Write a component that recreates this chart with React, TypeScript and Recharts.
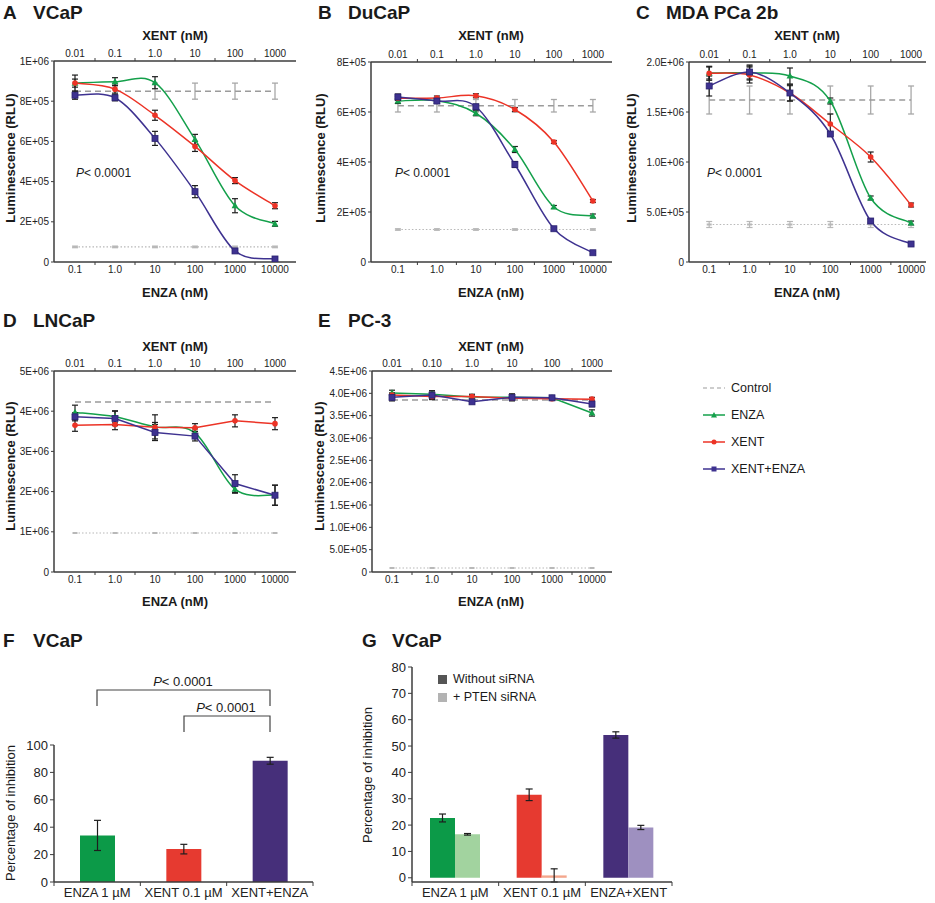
import React from "react";
import { LineChart, Line, XAxis, YAxis, ErrorBar, BarChart, Bar, Cell } from "recharts";

const FONT = '"Liberation Sans", Arial, Helvetica, sans-serif';
const AXIS = "#3c3c3c";
const TICK = "#222222";
const GREEN = "#14a04b";
const RED = "#ec3326";
const BLUE = "#3e3290";
const CTRL = "#9b9b9b";
const BASE = "#b8b8b8";

// shared dose axes (log10 of ENZA dose is used as x position)
const logDose = [-1, 0, 1, 2, 3, 4];
const enzaTicks = ["0.1", "1.0", "10", "100", "1000", "10000"];
const xentTicks = ["0.01", "0.1", "1.0", "10", "100", "1000"];
const xentTicksE = ["0.01", "0.10", "1.0", "10", "100", "1000"];

// A - VCaP
const vcapEnza = [8.9e5, 8.97e5, 8.92e5, 6.1e5, 2.8e5, 1.9e5];
const vcapEnzaErr = [4e4, 2e4, 3e4, 2.5e4, 3.5e4, 1.2e4];
const vcapXent = [8.9e5, 8.6e5, 7.3e5, 5.75e5, 4.05e5, 2.8e5];
const vcapXentErr = [2e4, 2e4, 2.5e4, 2.5e4, 1.5e4, 1.5e4];
const vcapCombo = [8.3e5, 8.17e5, 6.15e5, 3.5e5, 5.5e4, 1.5e4];
const vcapComboErr = [2e4, 1.5e4, 3.5e4, 3e4, 5e3, 5e3];
const vcapCtrl = [8.5e5, 8.5e5, 8.5e5, 8.5e5, 8.5e5, 8.5e5];
const vcapCtrlErr = [4e4, 4e4, 4e4, 4e4, 4e4, 4e4];
const vcapBase = [7.5e4, 7.5e4, 7.5e4, 7.5e4, 7.5e4, 7.5e4];
const vcapBaseErr = [4e3, 4e3, 4e3, 4e3, 4e3, 4e3];
const vcapYTicks = [0, 2e5, 4e5, 6e5, 8e5, 1e6];
const vcapYLabels = ["0", "2E+05", "4E+05", "6E+05", "8E+05", "1E+06"];

// B - DuCaP
const ducapEnza = [6.44e5, 6.45e5, 5.95e5, 4.5e5, 2.2e5, 1.84e5];
const ducapEnzaErr = [1e4, 1e4, 1e4, 1.2e4, 6e3, 8e3];
const ducapXent = [6.55e5, 6.56e5, 6.65e5, 6.1e5, 4.8e5, 2.44e5];
const ducapXentErr = [8e3, 8e3, 8e3, 8e3, 6e3, 6e3];
const ducapCombo = [6.6e5, 6.44e5, 6.21e5, 3.9e5, 1.33e5, 3.7e4];
const ducapComboErr = [1.2e4, 1e4, 1e4, 1.2e4, 5e3, 5e3];
const ducapCtrl = [6.25e5, 6.25e5, 6.25e5, 6.25e5, 6.25e5, 6.25e5];
const ducapCtrlErr = [2.5e4, 2.5e4, 2.5e4, 2.5e4, 2.5e4, 2.5e4];
const ducapBase = [1.3e5, 1.3e5, 1.3e5, 1.3e5, 1.3e5, 1.3e5];
const ducapBaseErr = [3e3, 3e3, 3e3, 3e3, 3e3, 3e3];
const ducapYTicks = [0, 2e5, 4e5, 6e5, 8e5];
const ducapYLabels = ["0", "2E+05", "4E+05", "6E+05", "8E+05"];

// C - MDA PCa 2b
const mdaEnza = [1.89e6, 1.89e6, 1.86e6, 1.61e6, 6.4e5, 3.9e5];
const mdaEnzaErr = [6e4, 7e4, 8e4, 3e4, 2e4, 2e4];
const mdaXent = [1.887e6, 1.87e6, 1.69e6, 1.38e6, 1.05e6, 5.7e5];
const mdaXentErr = [7e4, 8e4, 8e4, 1e5, 5e4, 2e4];
const mdaCombo = [1.76e6, 1.9e6, 1.69e6, 1.28e6, 4.1e5, 1.8e5];
const mdaComboErr = [1e5, 7e4, 8e4, 2e4, 2e4, 1e4];
const mdaCtrl = [1.62e6, 1.62e6, 1.62e6, 1.62e6, 1.62e6, 1.62e6];
const mdaCtrlErr = [1.4e5, 1.4e5, 1.4e5, 1.4e5, 1.4e5, 1.4e5];
const mdaBase = [3.75e5, 3.75e5, 3.75e5, 3.75e5, 3.75e5, 3.75e5];
const mdaBaseErr = [3e4, 3e4, 3e4, 3e4, 3e4, 3e4];
const mdaYTicks = [0, 5e5, 1e6, 1.5e6, 2e6];
const mdaYLabels = ["0", "5.0E+05", "1.0E+06", "1.5E+06", "2.0E+06"];

// D - LNCaP
const lncapEnza = [3.97e6, 3.86e6, 3.61e6, 3.46e6, 2.06e6, 1.91e6];
const lncapEnzaErr = [1.8e5, 1.5e5, 3e5, 1e5, 1e5, 2.5e5];
const lncapXent = [3.65e6, 3.67e6, 3.6e6, 3.59e6, 3.76e6, 3.69e6];
const lncapXentErr = [1.5e5, 1.3e5, 1.2e5, 1e5, 1.5e5, 1.5e5];
const lncapCombo = [3.86e6, 3.82e6, 3.47e6, 3.38e6, 2.2e6, 1.91e6];
const lncapComboErr = [1e5, 1.8e5, 2e5, 1.2e5, 2.2e5, 2.5e5];
const lncapCtrl = [4.23e6, 4.23e6, 4.23e6, 4.23e6, 4.23e6, 4.23e6];
const lncapCtrlErr = [0, 0, 0, 0, 0, 0];
const lncapBase = [9.7e5, 9.7e5, 9.7e5, 9.7e5, 9.7e5, 9.7e5];
const lncapBaseErr = [0, 0, 0, 0, 0, 0];
const lncapYTicks = [0, 1e6, 2e6, 3e6, 4e6, 5e6];
const lncapYLabels = ["0", "1E+06", "2E+06", "3E+06", "4E+06", "5E+06"];

// E - PC-3
const pc3Enza = [4.01e6, 3.98e6, 3.92e6, 3.91e6, 3.9e6, 3.56e6];
const pc3EnzaErr = [6e4, 5e4, 4e4, 4e4, 4e4, 7e4];
const pc3Xent = [3.96e6, 3.93e6, 3.93e6, 3.89e6, 3.88e6, 3.87e6];
const pc3XentErr = [5e4, 5e4, 5e4, 4e4, 4e4, 4e4];
const pc3Combo = [3.91e6, 3.96e6, 3.81e6, 3.91e6, 3.9e6, 3.76e6];
const pc3ComboErr = [8e4, 1e5, 4e4, 8e4, 5e4, 6e4];
const pc3Ctrl = [3.85e6, 3.85e6, 3.85e6, 3.85e6, 3.85e6, 3.85e6];
const pc3CtrlErr = [0, 0, 0, 0, 0, 0];
const pc3Base = [9e4, 9e4, 9e4, 9e4, 9e4, 9e4];
const pc3BaseErr = [0, 0, 0, 0, 0, 0];
const pc3YTicks = [0, 5e5, 1e6, 1.5e6, 2e6, 2.5e6, 3e6, 3.5e6, 4e6, 4.5e6];
const pc3YLabels = ["0", "5.0E+05", "1.0E+06", "1.5E+06", "2.0E+06", "2.5E+06", "3.0E+06", "3.5E+06", "4.0E+06", "4.5E+06"];

// F - VCaP bars
const fCats = ["ENZA 1 µM", "XENT 0.1 µM", "XENT+ENZA"];
const fValues = [34, 24, 88.5];
const fErrs = [11, 3.5, 2.5];
const fColors = ["#0c9a48", "#e63a30", "#462f7a"];

// G - VCaP bars, with / without PTEN siRNA
const gCats = ["ENZA 1 µM", "XENT 0.1 µM", "ENZA+XENT"];
const gWithout = [22.7, 31.5, 54.2];
const gWithoutErr = [1.5, 2.2, 1.2];
const gPten = [16.5, 0.9, 19.1];
const gPtenErr = [0.3, 2.5, 0.8];
const gDark = ["#0c9a48", "#e63a30", "#462f7a"];
const gLight = ["#a2d39f", "#f4a68c", "#9e90c0"];

// Excel-like smoothed line (Catmull-Rom through the points)
const smooth = (context: any) => {
  let pts: number[][] = [];
  return {
    areaStart() {},
    areaEnd() {},
    lineStart() {
      pts = [];
    },
    point(x: number, y: number) {
      pts.push([+x, +y]);
    },
    lineEnd() {
      if (!pts.length) return;
      context.moveTo(pts[0][0], pts[0][1]);
      for (let i = 0; i < pts.length - 1; i++) {
        const p0 = pts[i - 1] || pts[i];
        const p1 = pts[i];
        const p2 = pts[i + 1];
        const p3 = pts[i + 2] || p2;
        context.bezierCurveTo(
          p1[0] + (p2[0] - p0[0]) / 6,
          p1[1] + (p2[1] - p0[1]) / 6,
          p2[0] - (p3[0] - p1[0]) / 6,
          p2[1] - (p3[1] - p1[1]) / 6,
          p2[0],
          p2[1]
        );
      }
    },
  };
};

const triangleDot = (props: any) => {
  const { cx, cy, index } = props;
  if (cx == null || cy == null) return <g key={`t${index}`} />;
  return (
    <path
      key={`t${index}`}
      d={`M${cx},${cy - 3.6}L${cx + 3.4},${cy + 2.6}L${cx - 3.4},${cy + 2.6}Z`}
      fill={GREEN}
    />
  );
};
const circleDot = (props: any) => {
  const { cx, cy, index } = props;
  if (cx == null || cy == null) return <g key={`c${index}`} />;
  return <circle key={`c${index}`} cx={cx} cy={cy} r={2.8} fill={RED} />;
};
const squareDot = (props: any) => {
  const { cx, cy, index } = props;
  if (cx == null || cy == null) return <g key={`s${index}`} />;
  return <rect key={`s${index}`} x={cx - 3} y={cy - 3} width={6} height={6} fill={BLUE} stroke="#2a2270" strokeWidth={0.8} />;
};
const baseDot = (props: any) => {
  const { cx, cy, index } = props;
  if (cx == null || cy == null) return <g key={`b${index}`} />;
  return <rect key={`b${index}`} x={cx - 2.5} y={cy - 1} width={5} height={2} fill={BASE} />;
};

function Txt({ x, y, size, bold, italic, anchor, color, children }: any) {
  return (
    <div
      style={{
        position: "absolute",
        left: x,
        top: y - 0.85 * size,
        fontSize: size,
        lineHeight: 1,
        fontWeight: bold ? 700 : 400,
        fontStyle: italic ? "italic" : "normal",
        color: color || "#1a1a1a",
        whiteSpace: "nowrap",
        transform: anchor === "middle" ? "translateX(-50%)" : undefined,
      }}
    >
      {children}
    </div>
  );
}

function VTxt({ cx, cy, size, bold, children }: any) {
  return (
    <div
      style={{
        position: "absolute",
        left: cx,
        top: cy,
        fontSize: size,
        lineHeight: 1,
        fontWeight: bold ? 700 : 400,
        color: "#1a1a1a",
        whiteSpace: "nowrap",
        transform: "translate(-50%, -50%) rotate(-90deg)",
      }}
    >
      {children}
    </div>
  );
}

function Title({ x, y, letter, name }: any) {
  return (
    <>
      <Txt x={x} y={y} size={19} bold>
        {letter}
      </Txt>
      <Txt x={x + 30} y={y} size={19} bold>
        {name}
      </Txt>
    </>
  );
}

function DosePanel(p: any) {
  const [l, t, r, b] = p.plot;
  const cl = l - 50;
  const ct = t - 24;
  const w = r - cl + 8;
  const h = b - ct + 22;
  const half = (r - l) / (p.domain[1] - p.domain[0]) / 2;
  const rows = logDose.map((x, i) => ({
    x,
    enza: p.enza[i],
    enzaErr: p.enzaErr[i],
    xent: p.xent[i],
    xentErr: p.xentErr[i],
    combo: p.combo[i],
    comboErr: p.comboErr[i],
    ctrl: p.ctrl[i],
    ctrlErr: p.ctrlErr[i],
    base: p.base[i],
    baseErr: p.baseErr[i],
  }));
  const doseTick = (labels: string[], side: string) => (props: any) => {
    const { x, y, payload } = props;
    const lab = labels[logDose.indexOf(Math.round(payload.value))];
    return (
      <g>
        <text
          x={x}
          y={side === "top" ? y - 4 : y + 11}
          textAnchor="middle"
          fontSize={10}
          fill={TICK}
          style={{ fill: TICK }}
          fontFamily={FONT}
        >
          {lab}
        </text>
        {payload.value < 4 && (
          <line x1={x + half} x2={x + half} y1={y} y2={side === "top" ? y - 3 : y + 3} stroke={AXIS} strokeWidth={1} />
        )}
      </g>
    );
  };
  const seriesErr = { width: 3, stroke: "#1e1e1e", strokeWidth: 1.2 };
  return (
    <div style={{ position: "absolute", left: cl, top: ct }}>
      <LineChart width={w} height={h} data={rows} margin={{ top: 0, right: 8, bottom: 0, left: 0 }}>
        <XAxis
          xAxisId="bottom"
          dataKey="x"
          type="number"
          orientation="bottom"
          domain={p.domain}
          ticks={logDose}
          interval={0}
          allowDataOverflow
          height={22}
          tickSize={0}
          tickMargin={0}
          tickLine={false}
          axisLine={{ stroke: AXIS, strokeWidth: 1.5 }}
          tick={doseTick(enzaTicks, "bottom")}
        />
        <XAxis
          xAxisId="top"
          dataKey="x"
          type="number"
          orientation="top"
          domain={p.domain}
          ticks={logDose}
          interval={0}
          allowDataOverflow
          height={24}
          tickSize={0}
          tickMargin={0}
          tickLine={false}
          axisLine={{ stroke: AXIS, strokeWidth: 1.5 }}
          tick={doseTick(p.topLabels, "top")}
        />
        <YAxis
          type="number"
          domain={[0, p.yTicks[p.yTicks.length - 1]]}
          ticks={p.yTicks}
          interval={0}
          allowDataOverflow
          width={50}
          tickSize={3}
          tickMargin={2}
          tickLine={{ stroke: AXIS }}
          axisLine={{ stroke: AXIS, strokeWidth: 1.5 }}
          tick={{ fontSize: 10, fill: TICK, fontFamily: FONT }}
          tickFormatter={(v: number) => p.yLabels[p.yTicks.indexOf(v)]}
        />
        <Line
          xAxisId="top"
          dataKey="base"
          type="linear"
          stroke={BASE}
          strokeWidth={1.2}
          strokeDasharray="1.5 2"
          dot={baseDot}
          isAnimationActive={false}
        >
          <ErrorBar dataKey="baseErr" width={3} stroke={BASE} strokeWidth={1.2} />
        </Line>
        <Line
          xAxisId="top"
          dataKey="ctrl"
          type="linear"
          stroke={CTRL}
          strokeWidth={1.5}
          strokeDasharray="6 4"
          dot={false}
          isAnimationActive={false}
        >
          <ErrorBar dataKey="ctrlErr" width={3} stroke="#a8a8a8" strokeWidth={1.3} />
        </Line>
        <Line
          xAxisId="bottom"
          dataKey="enza"
          type={p.curves[0] === "smooth" ? smooth : "linear"}
          stroke={GREEN}
          strokeWidth={1.5}
          dot={triangleDot}
          isAnimationActive={false}
        >
          <ErrorBar dataKey="enzaErr" {...seriesErr} />
        </Line>
        <Line
          xAxisId="bottom"
          dataKey="xent"
          type={p.curves[1] === "smooth" ? smooth : "linear"}
          stroke={RED}
          strokeWidth={1.5}
          dot={circleDot}
          isAnimationActive={false}
        >
          <ErrorBar dataKey="xentErr" {...seriesErr} />
        </Line>
        <Line
          xAxisId="bottom"
          dataKey="combo"
          type={p.curves[2] === "smooth" ? smooth : "linear"}
          stroke={BLUE}
          strokeWidth={1.5}
          dot={squareDot}
          isAnimationActive={false}
        >
          <ErrorBar dataKey="comboErr" {...seriesErr} />
        </Line>
      </LineChart>
    </div>
  );
}

const catTick = (cats: string[], band: number) => (props: any) => {
  const { x, y, payload, index } = props;
  return (
    <g>
      <text x={x} y={y + 15} textAnchor="middle" fontSize={13} fill={TICK} style={{ fill: TICK }} fontFamily={FONT}>
        {payload.value}
      </text>
      <line x1={x - band / 2} x2={x - band / 2} y1={y} y2={y + 4} stroke={AXIS} />
      {index === cats.length - 1 && <line x1={x + band / 2} x2={x + band / 2} y1={y} y2={y + 4} stroke={AXIS} />}
    </g>
  );
};

function BarsF() {
  const l = 54, t = 745, r = 313, b = 882;
  const rows = fCats.map((c, i) => ({ cat: c, v: fValues[i], e: fErrs[i] }));
  const band = (r - l) / fCats.length;
  return (
    <div style={{ position: "absolute", left: l - 44, top: t - 10 }}>
      <BarChart width={r - l + 44 + 4} height={b - t + 10 + 21} data={rows} margin={{ top: 10, right: 4, bottom: 0, left: 0 }}>
        <XAxis
          dataKey="cat"
          interval={0}
          height={21}
          tickSize={0}
          tickMargin={0}
          tickLine={false}
          axisLine={{ stroke: AXIS, strokeWidth: 1.5 }}
          tick={catTick(fCats, band)}
        />
        <YAxis
          type="number"
          domain={[0, 100]}
          ticks={[0, 20, 40, 60, 80, 100]}
          interval={0}
          width={44}
          tickSize={4}
          tickLine={{ stroke: AXIS }}
          axisLine={{ stroke: AXIS, strokeWidth: 1.5 }}
          tick={{ fontSize: 13, fill: TICK, fontFamily: FONT }}
        />
        <Bar dataKey="v" barSize={35} isAnimationActive={false}>
          {rows.map((_, i) => (
            <Cell key={i} fill={fColors[i]} />
          ))}
          <ErrorBar dataKey="e" width={3.5} stroke="#1e1e1e" strokeWidth={1.2} />
        </Bar>
      </BarChart>
    </div>
  );
}

function BarsG() {
  const l = 412, t = 667, r = 672, b = 882;
  const rows = gCats.map((c, i) => ({ cat: c, a: gWithout[i], ae: gWithoutErr[i], p: gPten[i], pe: gPtenErr[i] }));
  const band = (r - l) / gCats.length;
  return (
    <div style={{ position: "absolute", left: l - 44, top: t - 10 }}>
      <BarChart
        width={r - l + 44 + 4}
        height={b - t + 10 + 21}
        data={rows}
        barGap={0}
        margin={{ top: 10, right: 4, bottom: 0, left: 0 }}
      >
        <XAxis
          dataKey="cat"
          interval={0}
          height={21}
          tickSize={0}
          tickMargin={0}
          tickLine={false}
          axisLine={{ stroke: AXIS, strokeWidth: 1.5 }}
          tick={catTick(gCats, band)}
        />
        <YAxis
          type="number"
          domain={[0, 80]}
          ticks={[0, 10, 20, 30, 40, 50, 60, 70, 80]}
          interval={0}
          width={44}
          tickSize={4}
          tickLine={{ stroke: AXIS }}
          axisLine={{ stroke: AXIS, strokeWidth: 1.5 }}
          tick={{ fontSize: 13, fill: TICK, fontFamily: FONT }}
        />
        <Bar dataKey="a" barSize={25} isAnimationActive={false}>
          {rows.map((_, i) => (
            <Cell key={i} fill={gDark[i]} />
          ))}
          <ErrorBar dataKey="ae" width={3.5} stroke="#1e1e1e" strokeWidth={1.2} />
        </Bar>
        <Bar dataKey="p" barSize={25} isAnimationActive={false}>
          {rows.map((_, i) => (
            <Cell key={i} fill={gLight[i]} />
          ))}
          <ErrorBar dataKey="pe" width={3.5} stroke="#1e1e1e" strokeWidth={1.2} />
        </Bar>
      </BarChart>
    </div>
  );
}

function Bracket({ x1, x2, y, leg }: any) {
  return (
    <path d={`M${x1},${y + leg}V${y}H${x2}V${y + leg}`} fill="none" stroke="#444" strokeWidth={1.2} />
  );
}

export default function App() {
  return (
    <div
      style={{
        position: "absolute",
        left: 0,
        top: 0,
        width: 935,
        height: 903,
        background: "#fff",
        fontFamily: FONT,
        overflow: "hidden",
      }}
    >
      <Title x={3} y={19} letter="A" name="VCaP" />
      <Title x={318} y={19} letter="B" name="DuCaP" />
      <Title x={636} y={19} letter="C" name="MDA PCa 2b" />
      <Title x={3} y={327} letter="D" name="LNCaP" />
      <Title x={318} y={327} letter="E" name="PC-3" />
      <Title x={3} y={647} letter="F" name="VCaP" />
      <Title x={362} y={647} letter="G" name="VCaP" />

      <DosePanel
        plot={[54, 61, 296, 262]}
        domain={[-1.525, 4.525]}
        topLabels={xentTicks}
        yTicks={vcapYTicks}
        yLabels={vcapYLabels}
        enza={vcapEnza}
        enzaErr={vcapEnzaErr}
        xent={vcapXent}
        xentErr={vcapXentErr}
        combo={vcapCombo}
        comboErr={vcapComboErr}
        ctrl={vcapCtrl}
        ctrlErr={vcapCtrlErr}
        base={vcapBase}
        baseErr={vcapBaseErr}
        curves={["smooth", "smooth", "smooth"]}
      />
      <DosePanel
        plot={[371, 62, 612, 262]}
        domain={[-1.69, 4.49]}
        topLabels={xentTicks}
        yTicks={ducapYTicks}
        yLabels={ducapYLabels}
        enza={ducapEnza}
        enzaErr={ducapEnzaErr}
        xent={ducapXent}
        xentErr={ducapXentErr}
        combo={ducapCombo}
        comboErr={ducapComboErr}
        ctrl={ducapCtrl}
        ctrlErr={ducapCtrlErr}
        base={ducapBase}
        baseErr={ducapBaseErr}
        curves={["smooth", "smooth", "smooth"]}
      />
      <DosePanel
        plot={[689, 62, 926, 262]}
        domain={[-1.5, 4.37]}
        topLabels={xentTicks}
        yTicks={mdaYTicks}
        yLabels={mdaYLabels}
        enza={mdaEnza}
        enzaErr={mdaEnzaErr}
        xent={mdaXent}
        xentErr={mdaXentErr}
        combo={mdaCombo}
        comboErr={mdaComboErr}
        ctrl={mdaCtrl}
        ctrlErr={mdaCtrlErr}
        base={mdaBase}
        baseErr={mdaBaseErr}
        curves={["smooth", "smooth", "smooth"]}
      />
      <DosePanel
        plot={[54, 371, 296, 572]}
        domain={[-1.525, 4.525]}
        topLabels={xentTicks}
        yTicks={lncapYTicks}
        yLabels={lncapYLabels}
        enza={lncapEnza}
        enzaErr={lncapEnzaErr}
        xent={lncapXent}
        xentErr={lncapXentErr}
        combo={lncapCombo}
        comboErr={lncapComboErr}
        ctrl={lncapCtrl}
        ctrlErr={lncapCtrlErr}
        base={lncapBase}
        baseErr={lncapBaseErr}
        curves={["smooth", "linear", "linear"]}
      />
      <DosePanel
        plot={[372, 371, 612, 572]}
        domain={[-1.5, 4.5]}
        topLabels={xentTicksE}
        yTicks={pc3YTicks}
        yLabels={pc3YLabels}
        enza={pc3Enza}
        enzaErr={pc3EnzaErr}
        xent={pc3Xent}
        xentErr={pc3XentErr}
        combo={pc3Combo}
        comboErr={pc3ComboErr}
        ctrl={pc3Ctrl}
        ctrlErr={pc3CtrlErr}
        base={pc3Base}
        baseErr={pc3BaseErr}
        curves={["linear", "linear", "linear"]}
      />

      {/* axis titles, line panels */}
      <Txt x={175} y={40} size={13} bold anchor="middle">XENT (nM)</Txt>
      <Txt x={491} y={40} size={13} bold anchor="middle">XENT (nM)</Txt>
      <Txt x={807} y={40} size={13} bold anchor="middle">XENT (nM)</Txt>
      <Txt x={175} y={351} size={13} bold anchor="middle">XENT (nM)</Txt>
      <Txt x={491} y={351} size={13} bold anchor="middle">XENT (nM)</Txt>
      <Txt x={175} y={297} size={13} bold anchor="middle">ENZA (nM)</Txt>
      <Txt x={491} y={297} size={13} bold anchor="middle">ENZA (nM)</Txt>
      <Txt x={807} y={297} size={13} bold anchor="middle">ENZA (nM)</Txt>
      <Txt x={175} y={606} size={13} bold anchor="middle">ENZA (nM)</Txt>
      <Txt x={491} y={606} size={13} bold anchor="middle">ENZA (nM)</Txt>
      <VTxt cx={10} cy={158} size={13} bold>Luminescence (RLU)</VTxt>
      <VTxt cx={320} cy={158} size={13} bold>Luminescence (RLU)</VTxt>
      <VTxt cx={631} cy={158} size={13} bold>Luminescence (RLU)</VTxt>
      <VTxt cx={10} cy={466} size={13} bold>Luminescence (RLU)</VTxt>
      <VTxt cx={319} cy={466} size={13} bold>Luminescence (RLU)</VTxt>

      <Txt x={76} y={177} size={12}><i>P</i>&lt; 0.0001</Txt>
      <Txt x={395} y={177} size={12}><i>P</i>&lt; 0.0001</Txt>
      <Txt x={707} y={177} size={12}><i>P</i>&lt; 0.0001</Txt>

      {/* legend for the dose-response panels */}
      <svg style={{ position: "absolute", left: 700, top: 378 }} width={30} height={100}>
        <line x1={3} x2={25} y1={10} y2={10} stroke={CTRL} strokeWidth={1.2} strokeDasharray="4 3" />
        <line x1={3} x2={25} y1={37} y2={37} stroke={GREEN} strokeWidth={1.5} />
        <path d="M14,34L17,39.5L11,39.5Z" fill={GREEN} />
        <line x1={3} x2={25} y1={64} y2={64} stroke={RED} strokeWidth={1.5} />
        <circle cx={14} cy={64} r={2.5} fill={RED} />
        <line x1={3} x2={25} y1={91} y2={91} stroke={BLUE} strokeWidth={1.5} />
        <rect x={11.5} y={88.5} width={5} height={5} fill={BLUE} />
      </svg>
      <Txt x={731} y={393} size={12.5}>Control</Txt>
      <Txt x={731} y={420} size={12.5}>ENZA</Txt>
      <Txt x={731} y={447} size={12.5}>XENT</Txt>
      <Txt x={731} y={474} size={12.5}>XENT+ENZA</Txt>

      <BarsF />
      <BarsG />

      <svg style={{ position: "absolute", left: 0, top: 670 }} width={330} height={70}>
        <Bracket x1={97} x2={270} y={20} leg={16} />
        <Bracket x1={184} x2={270} y={46} leg={16} />
      </svg>
      <Txt x={183} y={686} size={13} anchor="middle"><i>P</i>&lt; 0.0001</Txt>
      <Txt x={226} y={712} size={13} anchor="middle"><i>P</i>&lt; 0.0001</Txt>
      <VTxt cx={10} cy={813} size={13}>Percentage of inhibition</VTxt>
      <VTxt cx={367} cy={775} size={13}>Percentage of inhibition</VTxt>

      {/* legend for G */}
      <div style={{ position: "absolute", left: 438, top: 675, width: 9, height: 9, background: "#555" }} />
      <div style={{ position: "absolute", left: 438, top: 693, width: 9, height: 9, background: "#b3b3b3" }} />
      <Txt x={453} y={684} size={12.5}>Without siRNA</Txt>
      <Txt x={453} y={702} size={12.5}>+ PTEN siRNA</Txt>
    </div>
  );
}
